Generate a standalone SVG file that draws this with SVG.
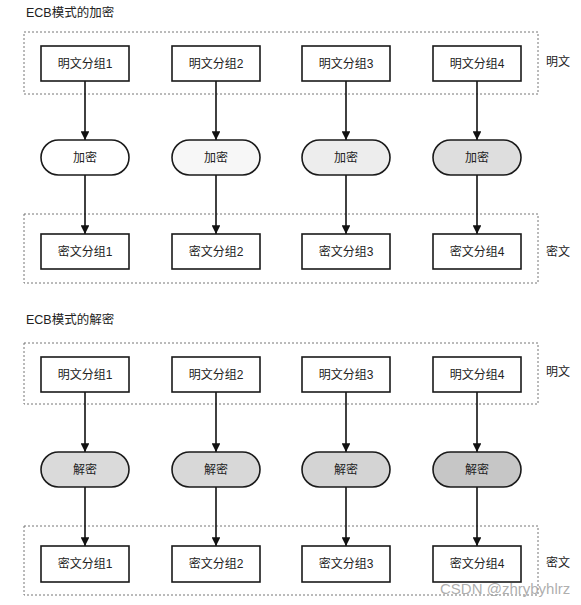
<svg xmlns="http://www.w3.org/2000/svg" width="581" height="605" viewBox="0 0 581 605">
<defs>
<style>
text{font-family:"Liberation Sans","Noto Sans CJK SC",sans-serif;font-size:12px;fill:#222;}
.t{text-anchor:middle;dominant-baseline:central;}
.title{font-size:12.5px;dominant-baseline:central;}
.lab{dominant-baseline:central;}
.box{fill:#fff;stroke:#1a1a1a;stroke-width:1.6;}
.pill{stroke:#1a1a1a;stroke-width:1.6;}
.grp{fill:none;stroke:#777;stroke-width:1;stroke-dasharray:2 2;}
.arr{stroke:#111;stroke-width:1.6;fill:none;marker-end:url(#ah);}
.wm{font-size:15px;fill:#999;fill-opacity:0.8;dominant-baseline:central;}
</style>
<marker id="ah" viewBox="0 0 10 10" refX="10" refY="5" markerWidth="5.5" markerHeight="5.5" orient="auto" markerUnits="strokeWidth">
<path d="M0,0 L10,5 L0,10 z" fill="#111"/>
</marker>
</defs>
<rect width="581" height="605" fill="#fff"/>

<g id="enc-section">
<text class="title" x="26" y="13">ECB模式的加密</text>
<rect class="grp" x="24" y="32" width="514" height="62"/>
<text class="lab" x="546" y="62">明文</text>
<rect class="grp" x="24" y="214" width="514" height="69"/>
<text class="lab" x="546" y="252">密文</text>
</g>

<g id="dec-section">
<text class="title" x="26" y="320">ECB模式的解密</text>
<rect class="grp" x="24" y="343" width="514" height="61"/>
<text class="lab" x="546" y="372">明文</text>
<rect class="grp" x="24" y="526" width="514" height="69"/>
<text class="lab" x="546" y="563">密文</text>
</g>

<g id="connectors">
<line class="arr" x1="85" y1="81" x2="85" y2="140"/>
<line class="arr" x1="216" y1="81" x2="216" y2="140"/>
<line class="arr" x1="346" y1="81" x2="346" y2="140"/>
<line class="arr" x1="477" y1="81" x2="477" y2="140"/>
<line class="arr" x1="85" y1="175" x2="85" y2="234"/>
<line class="arr" x1="216" y1="175" x2="216" y2="234"/>
<line class="arr" x1="346" y1="175" x2="346" y2="234"/>
<line class="arr" x1="477" y1="175" x2="477" y2="234"/>
<line class="arr" x1="85" y1="392" x2="85" y2="452"/>
<line class="arr" x1="216" y1="392" x2="216" y2="452"/>
<line class="arr" x1="346" y1="392" x2="346" y2="452"/>
<line class="arr" x1="477" y1="392" x2="477" y2="452"/>
<line class="arr" x1="85" y1="487" x2="85" y2="546"/>
<line class="arr" x1="216" y1="487" x2="216" y2="546"/>
<line class="arr" x1="346" y1="487" x2="346" y2="546"/>
<line class="arr" x1="477" y1="487" x2="477" y2="546"/>
</g>

<g id="p1"><rect class="box" x="41" y="46" width="88" height="35"/><text class="t" x="85" y="63.5">明文分组1</text></g>
<g id="p2"><rect class="box" x="172" y="46" width="88" height="35"/><text class="t" x="216" y="63.5">明文分组2</text></g>
<g id="p3"><rect class="box" x="302" y="46" width="88" height="35"/><text class="t" x="346" y="63.5">明文分组3</text></g>
<g id="p4"><rect class="box" x="433" y="46" width="88" height="35"/><text class="t" x="477" y="63.5">明文分组4</text></g>

<g id="e1"><rect class="pill" x="41" y="140" width="88" height="35" rx="17.5" fill="#ffffff"/><text class="t" x="85" y="157.5">加密</text></g>
<g id="e2"><rect class="pill" x="172" y="140" width="88" height="35" rx="17.5" fill="#f7f7f7"/><text class="t" x="216" y="157.5">加密</text></g>
<g id="e3"><rect class="pill" x="302" y="140" width="88" height="35" rx="17.5" fill="#ededed"/><text class="t" x="346" y="157.5">加密</text></g>
<g id="e4"><rect class="pill" x="433" y="140" width="88" height="35" rx="17.5" fill="#dedede"/><text class="t" x="477" y="157.5">加密</text></g>

<g id="c1"><rect class="box" x="41" y="234" width="88" height="35"/><text class="t" x="85" y="251.5">密文分组1</text></g>
<g id="c2"><rect class="box" x="172" y="234" width="88" height="35"/><text class="t" x="216" y="251.5">密文分组2</text></g>
<g id="c3"><rect class="box" x="302" y="234" width="88" height="35"/><text class="t" x="346" y="251.5">密文分组3</text></g>
<g id="c4"><rect class="box" x="433" y="234" width="88" height="35"/><text class="t" x="477" y="251.5">密文分组4</text></g>

<g id="dp1"><rect class="box" x="41" y="357" width="88" height="35"/><text class="t" x="85" y="374.5">明文分组1</text></g>
<g id="dp2"><rect class="box" x="172" y="357" width="88" height="35"/><text class="t" x="216" y="374.5">明文分组2</text></g>
<g id="dp3"><rect class="box" x="302" y="357" width="88" height="35"/><text class="t" x="346" y="374.5">明文分组3</text></g>
<g id="dp4"><rect class="box" x="433" y="357" width="88" height="35"/><text class="t" x="477" y="374.5">明文分组4</text></g>

<g id="d1"><rect class="pill" x="41" y="452" width="88" height="35" rx="17.5" fill="#dadada"/><text class="t" x="85" y="469.5">解密</text></g>
<g id="d2"><rect class="pill" x="172" y="452" width="88" height="35" rx="17.5" fill="#d8d8d8"/><text class="t" x="216" y="469.5">解密</text></g>
<g id="d3"><rect class="pill" x="302" y="452" width="88" height="35" rx="17.5" fill="#d4d4d4"/><text class="t" x="346" y="469.5">解密</text></g>
<g id="d4"><rect class="pill" x="433" y="452" width="88" height="35" rx="17.5" fill="#c6c6c6"/><text class="t" x="477" y="469.5">解密</text></g>

<g id="dc1"><rect class="box" x="41" y="546" width="88" height="36"/><text class="t" x="85" y="564">密文分组1</text></g>
<g id="dc2"><rect class="box" x="172" y="546" width="88" height="36"/><text class="t" x="216" y="564">密文分组2</text></g>
<g id="dc3"><rect class="box" x="302" y="546" width="88" height="36"/><text class="t" x="346" y="564">密文分组3</text></g>
<g id="dc4"><rect class="box" x="433" y="546" width="88" height="36"/><text class="t" x="477" y="564">密文分组4</text></g>

<text class="wm" x="440" y="588">CSDN @zhrybyhlrz</text>
</svg>
